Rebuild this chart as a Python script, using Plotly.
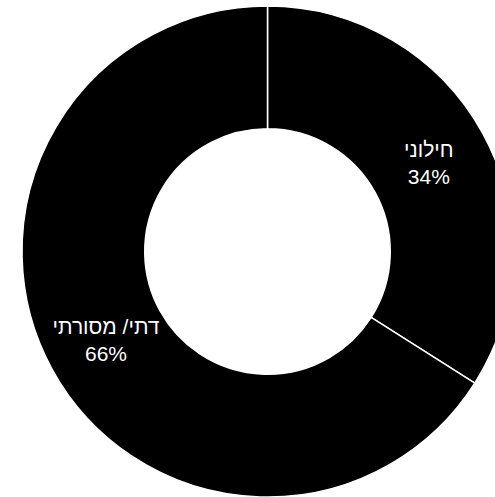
import plotly.graph_objects as go

# Respondent self-identification shares
labels = ["חילוני", "דתי/ מסורתי"]
values = [34, 66]

W, H = 535, 503
top_px, bottom_px = 6, 497

fig = go.Figure(
    go.Pie(
        labels=labels,
        values=values,
        hole=0.5,
        sort=False,
        direction="clockwise",
        rotation=0,
        marker=dict(colors=["#000000", "#000000"], line=dict(color="#ffffff", width=1.5)),
        texttemplate="%{label}<br>%{percent:.0%}",
        textposition="inside",
        insidetextorientation="horizontal",
        textfont=dict(color="#ffffff", size=21, family="Arial, Liberation Sans, sans-serif"),
        domain=dict(x=[0, 1], y=[(H - bottom_px) / H, (H - top_px) / H]),
        showlegend=False,
        hoverinfo="skip",
    )
)

fig.update_layout(
    width=W,
    height=H,
    margin=dict(l=0, r=0, t=0, b=0),
    paper_bgcolor="#ffffff",
    plot_bgcolor="#ffffff",
    showlegend=False,
)

fig.write_html(
    "out.html",
    config={"displayModeBar": False},
    post_script="document.documentElement.style.overflow='hidden';document.body.style.overflow='hidden';document.body.style.margin='0';",
)
